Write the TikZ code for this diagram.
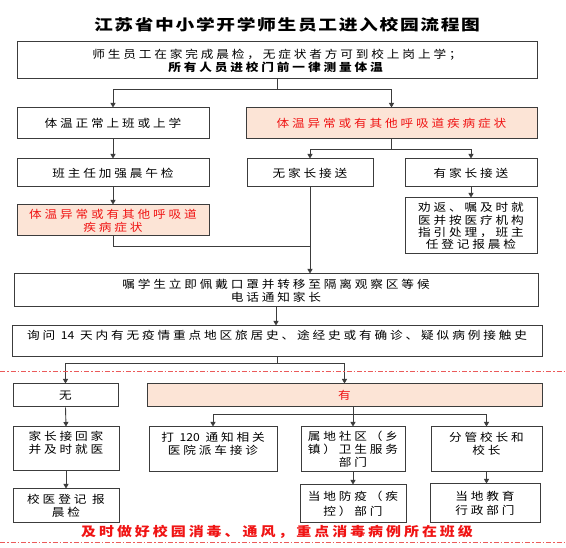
\documentclass[tikz,border=0pt]{standalone}
\usepackage{fontspec}
\usetikzlibrary{arrows.meta}
\newfontfamily\cjk[FakeStretch=1.15,LetterSpace=26]{Noto Sans CJK SC}
\newfontfamily\cjknum[FakeStretch=1.1]{Noto Sans CJK SC}
\newfontfamily\cjktitle[FakeStretch=1.25,LetterSpace=11]{Noto Sans CJK SC}
\newfontfamily\cjkred[FakeStretch=1.15,LetterSpace=23]{Noto Sans CJK SC}
\newcommand\bodyfont{\cjk\fontsize{11}{13}\selectfont}
\newcommand\numtxt[1]{{\cjknum #1}}
\definecolor{pinkfill}{RGB}{252,228,214}
\definecolor{redtxt}{RGB}{240,20,20}
\definecolor{edge}{RGB}{60,60,60}
\definecolor{dashred}{RGB}{235,90,90}
\tikzset{
  box/.style={draw=edge, line width=1pt, align=center, inner sep=0pt, font=\bodyfont},
  pinkbox/.style={box, fill=pinkfill, text=redtxt},
  conn/.style={draw=edge, line width=0.9pt},
  arr/.style={conn, -{Triangle[width=5pt,length=4.5pt]}},
  dashline/.style={draw=dashred, line width=1pt, dash pattern=on 5pt off 2pt on 1.5pt off 2pt},
}
\begin{document}
\begin{tikzpicture}[x=1pt,y=-1pt]
\useasboundingbox (0,0) rectangle (566,548);
\fill[white] (0,0) rectangle (566,548);
\node[font=\cjktitle\fontsize{15}{17}\selectfont\bfseries] (title) at (287,25) {江苏省中小学开学师生员工进入校园流程图};
\node[box, minimum width=520pt, minimum height=37pt] (top) at (277,60.5) {师生员工在家完成晨检，无症状者方可到校上岗上学；\\\textbf{所有人员进校门前一律测量体温}};
\node[box, minimum width=192pt, minimum height=31pt] (l1) at (113,123.5) {体温正常上班或上学};
\node[pinkbox, minimum width=291pt, minimum height=31pt] (r1) at (391.5,123.5) {体温异常或有其他呼吸道疾病症状};
\node[box, minimum width=192pt, minimum height=28pt] (l2) at (113,173) {班主任加强晨午检};
\node[box, minimum width=126pt, minimum height=28pt] (m2) at (310,173) {无家长接送};
\node[box, minimum width=132pt, minimum height=28pt] (r2) at (471,173) {有家长接送};
\node[pinkbox, minimum width=192pt, minimum height=31pt] (l3) at (113,220.5) {体温异常或有其他呼吸道\\疾病症状};
\node[box, minimum width=132pt, minimum height=56pt, font=\cjk\fontsize{11}{12.3}\selectfont] (r3) at (471,226) {劝返、嘱及时就\\医并按医疗机构\\指引处理，班主\\任登记报晨检};
\node[box, minimum width=524pt, minimum height=33pt] (m4) at (276,290.5) {嘱学生立即佩戴口罩并转移至隔离观察区等候\\电话通知家长};
\node[box, minimum width=530pt, minimum height=31pt] (m5) at (277,341.5) {询问 \numtxt{14} 天内有无疫情重点地区旅居史、途经史或有确诊、疑似病例接触史\\\mbox{}};
\node[box, minimum width=105pt, minimum height=23pt] (wu) at (65.5,395.5) {无};
\node[pinkbox, minimum width=395pt, minimum height=23pt] (you) at (344.5,395.5) {有};
\node[box, minimum width=106pt, minimum height=44pt] (jz) at (66,449) {家长接回家\\并及时就医\\\mbox{}};
\node[box, minimum width=106pt, minimum height=34pt] (xy) at (66,506) {校医登记 报\\晨检};
\node[box, minimum width=128pt, minimum height=45pt] (da) at (213,449.5) {打 \numtxt{120} 通知相关\\医院派车接诊\\\mbox{}};
\node[box, minimum width=104pt, minimum height=45pt] (sd) at (353,449.5) {属地社区（乡\\镇）卫生服务\\部门};
\node[box, minimum width=111pt, minimum height=45pt] (fg) at (486.5,449.5) {分管校长和\\校长\\\mbox{}};
\node[box, minimum width=106pt, minimum height=38pt, font=\cjk\fontsize{11}{15}\selectfont] (fy) at (353,504) {当地防疫（疾\\控）部门};
\node[box, minimum width=110pt, minimum height=39pt, font=\cjk\fontsize{11}{14}\selectfont] (jy) at (485,503.5) {当地教育\\行政部门};
\node[text=redtxt, font=\cjkred\fontsize{13}{15}\selectfont\bfseries] (note) at (277,532) {及时做好校园消毒、通风，重点消毒病例所在班级};
% connectors
\coordinate (j1) at (277,89);
\draw[conn] (top.south) -- (j1);
\draw[arr] (j1) -| (l1.north);
\draw[arr] (j1) -| (r1.north);
\draw[arr] (l1.south) -- (l2.north);
\draw[arr] (l2.south) -- (l3.north);
\coordinate (j2) at (391.5,149);
\draw[conn] (r1.south) -- (j2);
\draw[arr] (j2) -| (m2.north);
\draw[arr] (j2) -| (r2.north);
\draw[arr] (r2.south) -- (r3.north);
\draw[arr] (m2.south) -- (m2.south |- m4.north);
\coordinate (j3) at (310,246);
\draw[conn] (l3.south) |- (j3);
\draw[arr] (m4.south) -- (m4.south |- m5.north);
\coordinate (j4) at (277,363);
\draw[conn] (m5.south) -- (j4);
\draw[arr] (j4) -| (wu.north);
\draw[arr] (j4) -| (you.north);
\coordinate (j5) at (353,414);
\draw[conn] (you.south -| j5) -- (j5);
\draw[arr] (j5) -| (da.north);
\draw[arr] (j5) -- (sd.north);
\draw[arr] (j5) -| (fg.north);
\draw[arr] (wu.south) -- (jz.north);
\draw[arr] (jz.south) -- (xy.north);
\draw[arr] (sd.south) -- (fy.north);
\draw[arr] (fg.south) -- (fg.south |- jy.north);
% dash-dot separators
\draw[dashline] (0,372) -- (566,372);
\draw[dashline] (0,543) -- (566,543);
\end{tikzpicture}
\end{document}
